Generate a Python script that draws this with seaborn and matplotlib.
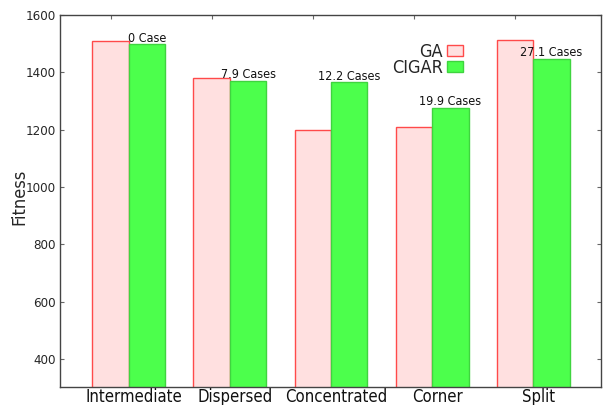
import matplotlib
matplotlib.use("Agg")
import matplotlib.pyplot as plt
import matplotlib.transforms as mtransforms
import seaborn as sns
import pandas as pd
from matplotlib.patches import Patch

categories = ["Intermediate", "Dispersed", "Concentrated", "Corner", "Split"]
ga_fitness = [1509, 1380, 1199, 1209, 1513]
cigar_fitness = [1499, 1370, 1366, 1276, 1447]
case_labels = ["0 Case", "7.9 Cases", "12.2 Cases", "19.9 Cases", "27.1 Cases"]
methods = ["GA", "CIGAR"]

df = pd.DataFrame({
    "Scenario": categories * 2,
    "Method": ["GA"] * len(categories) + ["CIGAR"] * len(categories),
    "Fitness": ga_fitness + cigar_fitness,
})

sns.set_style("white")
plt.rcParams["font.family"] = ["DejaVu Sans"]
plt.rcParams["font.stretch"] = "condensed"

face = {"GA": "#ffe0e0", "CIGAR": "#4cff4c"}
edge = {"GA": "#ff4a4a", "CIGAR": "#3fd43f"}

fig = plt.figure(figsize=(6.03, 4.05), dpi=100)
ax = fig.add_axes([0.0995, 0.0444, 0.8972, 0.9186])

sns.barplot(data=df, x="Scenario", y="Fitness", hue="Method", hue_order=methods,
            order=categories, palette=face, width=0.72, ax=ax, legend=False,
            saturation=1, errorbar=None)

# outline each bar in its series colour
for container, m in zip(ax.containers, methods):
    for bar in container:
        bar.set_edgecolor(edge[m])
        bar.set_linewidth(1.0)

# case counts above the CIGAR bars
for bar, lab in zip(ax.containers[1], case_labels):
    ax.text(bar.get_x() + bar.get_width() / 2, bar.get_height() - 2, lab,
            ha="center", va="bottom", fontsize=9, color="#111111")

ax.set_ylim(302, 1600)
ax.set_xlim(-0.68, 4.67)
ax.set_yticks([400, 600, 800, 1000, 1200, 1400, 1600])
ax.set_xlabel("")
ax.set_ylabel("Fitness", fontsize=13)
ax.yaxis.set_label_coords(-0.058, 0.51)

for s in ax.spines.values():
    s.set_visible(True)
    s.set_color("#444444")
    s.set_linewidth(1.0)

ax.tick_params(axis="y", direction="in", length=3, labelsize=9.5, pad=3,
               right=True, left=True, color="#666666")
ax.tick_params(axis="x", length=0, labelsize=12, pad=1)
shift = mtransforms.ScaledTranslation(5 / 100, 0, fig.dpi_scale_trans)
for t in ax.get_xticklabels():
    t.set_color("#111111")
    t.set_transform(t.get_transform() + shift)

top = ax.secondary_xaxis("top")
top.set_xticks([i - 0.18 for i in range(len(categories))])
top.set_xticklabels([])
top.tick_params(direction="in", length=3, color="#666666")
top.spines["top"].set_visible(False)

handles = [Patch(facecolor=face[m], edgecolor=edge[m], label=m) for m in methods]
ax.legend(handles=handles, loc="upper right", bbox_to_anchor=(0.745, 0.925),
          frameon=False, markerfirst=False, fontsize=13, handlelength=0.9,
          handleheight=0.6, handletextpad=0.2, labelspacing=-0.1,
          borderaxespad=0, borderpad=0)

fig.savefig("out.png", dpi=100)
